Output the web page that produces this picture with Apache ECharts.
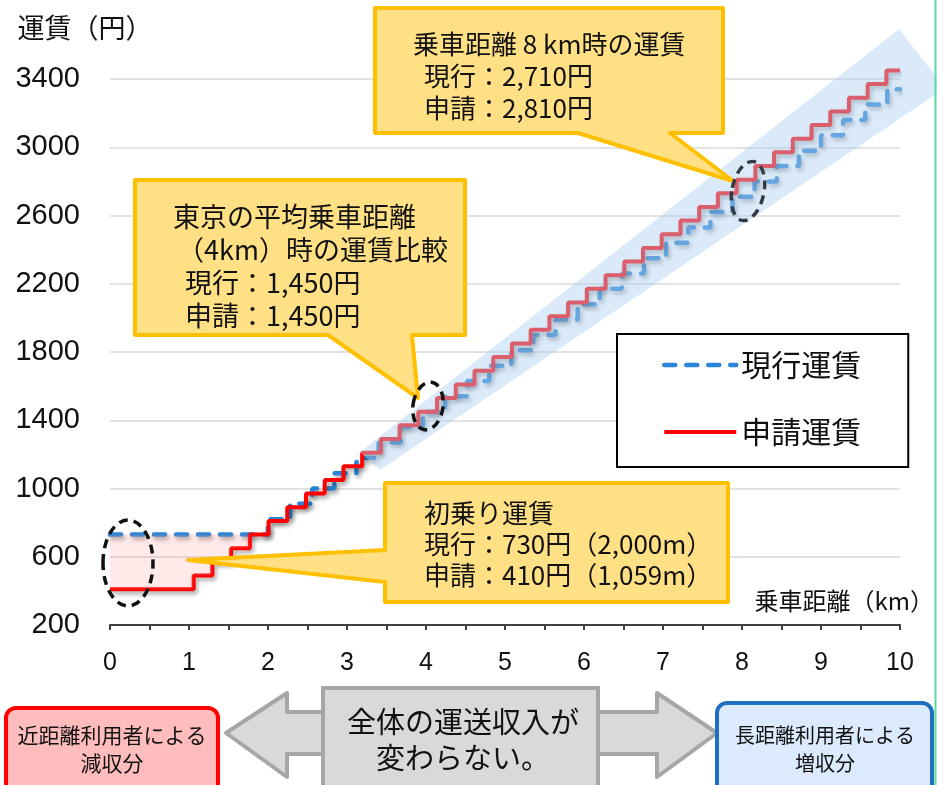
<!DOCTYPE html>
<html>
<head>
<meta charset="utf-8">
<title>運賃比較</title>
<script src="https://cdn.jsdelivr.net/npm/echarts@6/dist/echarts.min.js"></script>
<style>
  html, body { margin: 0; padding: 0; background: #fff; }
  #chart { width: 937px; height: 785px; }
</style>
</head>
<body>
<div id="chart"></div>
<script>
// 現行運賃：距離(km)ごとの運賃(円)
var currentKm = [0, 2.00, 2.28, 2.56, 2.84, 3.12, 3.40, 3.68, 3.96, 4.24, 4.52, 4.80, 5.08, 5.36, 5.64, 5.92,
  6.20, 6.48, 6.76, 7.04, 7.32, 7.60, 7.88, 8.16, 8.44, 8.72, 9.00, 9.28, 9.56, 9.84, 10]
var currentFare = [730, 820, 910, 1000, 1090, 1180, 1270, 1360, 1450, 1540, 1630, 1720, 1810, 1900, 1990, 2080,
  2170, 2260, 2350, 2440, 2530, 2620, 2710, 2800, 2890, 2980, 3070, 3160, 3250, 3340, 3340]

// 申請運賃
var proposedKm = [0, 1.059, 1.296, 1.533, 1.770, 2.007, 2.244, 2.481, 2.718, 2.955, 3.192, 3.429, 3.666, 3.903,
  4.140, 4.377, 4.614, 4.851, 5.088, 5.325, 5.562, 5.799, 6.036, 6.273, 6.510, 6.747, 6.984, 7.221, 7.458,
  7.695, 7.932, 8.169, 8.406, 8.643, 8.880, 9.117, 9.354, 9.591, 9.828, 10]
var proposedFare = [410, 490, 570, 650, 730, 810, 890, 970, 1050, 1130, 1210, 1290, 1370, 1450,
  1530, 1610, 1690, 1770, 1850, 1930, 2010, 2090, 2170, 2250, 2330, 2410, 2490, 2570, 2650,
  2730, 2810, 2890, 2970, 3050, 3130, 3210, 3290, 3370, 3450, 3450]

var seriesNames = ['現行運賃', '申請運賃']

// 軸
var yMin = 200
var yMax = 3400
var yStep = 400
var xMax = 10

var cjk = '"Noto Sans CJK JP", sans-serif'
var latin = '"Liberation Sans", Arial, sans-serif'

var currentData = currentKm.map(function (k, i) { return [k, currentFare[i]] })
var proposedData = proposedKm.map(function (k, i) { return [k, proposedFare[i]] })
// 初乗り部分（減収分）
var gapData = proposedData.filter(function (p) { return p[1] <= currentFare[0] })

var shadow = {
  shadowColor: 'rgba(0,0,0,0.35)',
  shadowBlur: 4,
  shadowOffsetX: 2,
  shadowOffsetY: 3
}

// 吹き出し
function callout(points, lines, x, y0, lh, size) {
  var items = [{
    type: 'polygon',
    z: 20,
    shape: { points: points },
    style: { fill: '#ffe085', stroke: '#ffc000', lineWidth: 4, lineJoin: 'round' }
  }]
  lines.forEach(function (t, i) {
    items.push({
      type: 'text',
      z: 21,
      x: x[i],
      y: y0 + i * lh,
      style: { text: t, font: size + 'px ' + cjk, fill: '#111', verticalAlign: 'middle' }
    })
  })
  return items
}

function ellipse(cx, cy, rx, ry, rot, color) {
  return {
    type: 'ellipse',
    z: 22,
    x: cx,
    y: cy,
    rotation: rot,
    shape: { cx: 0, cy: 0, rx: rx, ry: ry },
    style: { fill: 'transparent', stroke: color, lineWidth: 3.5, lineDash: [9, 6] }
  }
}

function label(x, y, t, size) {
  return {
    type: 'text',
    z: 31,
    x: x,
    y: y,
    style: { text: t, font: size + 'px ' + cjk, fill: '#111', align: 'center', verticalAlign: 'middle' }
  }
}

var graphics = [
  // 青い帯
  {
    type: 'polygon',
    z: 15,
    silent: true,
    shape: { points: [[360, 452], [899, 29], [945, 88], [380, 470]] },
    style: { fill: 'rgba(175,208,240,0.45)' }
  },
  ellipse(128, 563, 25, 43, 0, '#111'),
  ellipse(428, 406, 15, 24, -0.15, '#111'),
  ellipse(748, 191, 16, 30, -0.2, '#333c45'),
  // 下部の図
  {
    type: 'polygon',
    z: 30,
    shape: { points: [[226, 733], [287, 693], [287, 712], [657, 712], [657, 693], [717, 733],
      [657, 777], [657, 754], [287, 754], [287, 777]] },
    style: { fill: '#d9d9d9', stroke: '#a6a6a6', lineWidth: 4, lineJoin: 'round' }
  },
  {
    type: 'rect',
    z: 30,
    shape: { x: 323, y: 688, width: 275, height: 110 },
    style: { fill: '#d9d9d9', stroke: '#a6a6a6', lineWidth: 4 }
  },
  {
    type: 'rect',
    z: 30,
    shape: { x: 6, y: 708, width: 212, height: 95, r: 10 },
    style: { fill: '#ffbcbc', stroke: '#ff0000', lineWidth: 4 }
  },
  {
    type: 'rect',
    z: 30,
    shape: { x: 717, y: 703, width: 215, height: 100, r: 10 },
    style: { fill: '#dbeafc', stroke: '#1f6fc0', lineWidth: 4 }
  },
  label(112, 735, '近距離利用者による', 21),
  label(112, 763, '減収分', 21),
  label(463, 722, '全体の運送収入が', 29),
  label(463, 758, '変わらない。', 29),
  label(825, 735, '長距離利用者による', 20),
  label(825, 763, '増収分', 20),
  // 右端の線
  {
    type: 'line',
    z: 40,
    shape: { x1: 935.5, y1: 0, x2: 935.5, y2: 785 },
    style: { stroke: '#5fd6a3', lineWidth: 2 }
  }
]

graphics = graphics.concat(
  callout([[375, 8], [723, 8], [723, 133], [670, 133], [733, 181], [578, 133], [375, 133]],
    ['乗車距離 8 km時の運賃', '現行：2,710円', '申請：2,810円'], [413, 424, 424], 44, 32, 26),
  callout([[135, 180], [465, 180], [465, 335], [412, 335], [418, 398], [328, 335], [135, 335]],
    ['東京の平均乗車距離', '（4km）時の運賃比較', '現行：1,450円', '申請：1,450円'], [173, 177, 185, 185], 217, 33, 27),
  callout([[385, 483], [728, 483], [728, 602], [385, 602], [385, 582], [188, 560], [385, 550]],
    ['初乗り運賃', '現行：730円（2,000m）', '申請：410円（1,059m）'], [424, 424, 424], 513, 31, 26)
)

var chart = echarts.init(document.getElementById('chart'))
var option = {
  animation: false,
  backgroundColor: '#fff',
  grid: { left: 110, right: 32, top: 79, bottom: 160 },
  legend: {
    data: seriesNames,
    orient: 'vertical',
    left: 617,
    top: 334,
    padding: [16, 47, 20, 45],
    itemWidth: 72,
    itemHeight: 30,
    itemGap: 37,
    backgroundColor: '#fff',
    borderColor: '#000',
    borderWidth: 2,
    itemStyle: { opacity: 0 },
    lineStyle: { width: 'inherit' },
    textStyle: { fontSize: 30, fontFamily: cjk, color: '#111', padding: [0, 0, 0, 0] }
  },
  xAxis: {
    type: 'value',
    min: 0,
    max: xMax,
    interval: 0.5,
    name: '乗車距離（km）',
    nameLocation: 'end',
    nameGap: 34,
    nameTextStyle: { fontSize: 24, fontFamily: cjk, color: '#111', align: 'right', verticalAlign: 'bottom', padding: [0, 0, 12, 0] },
    axisLine: { lineStyle: { color: '#404040', width: 2 } },
    axisTick: { show: true, length: 5, lineStyle: { color: '#404040', width: 2 } },
    axisLabel: {
      margin: 26,
      fontSize: 25,
      fontFamily: latin,
      color: '#111',
      formatter: function (v) { return v % 1 === 0 ? String(v) : '' }
    },
    splitLine: { show: false }
  },
  yAxis: {
    type: 'value',
    min: yMin,
    max: yMax,
    interval: yStep,
    name: '運賃（円）',
    nameLocation: 'end',
    nameGap: 38,
    nameTextStyle: { fontSize: 27, fontFamily: cjk, color: '#111', align: 'center', padding: [0, 50, 0, 0] },
    axisLine: { show: false },
    axisTick: { show: false },
    axisLabel: {
      margin: 30,
      fontSize: 29,
      fontFamily: latin,
      color: '#111',
      formatter: function (v) { return String(v) }
    },
    splitLine: { lineStyle: { color: '#d9d9d9', width: 1.5 } }
  },
  series: [
    {
      name: seriesNames[0],
      type: 'line',
      step: 'end',
      symbol: 'none',
      clip: false,
      z: 3,
      data: currentData,
      lineStyle: Object.assign({ color: '#2a85d6', width: 4.5, type: [11, 11], cap: 'round' }, shadow),
      itemStyle: { color: '#2a85d6' }
    },
    {
      name: seriesNames[1],
      type: 'line',
      step: 'end',
      symbol: 'none',
      clip: false,
      z: 4,
      data: proposedData,
      lineStyle: Object.assign({ color: '#ff0000', width: 4 }, shadow),
      itemStyle: { color: '#ff0000' }
    },
    {
      name: '減収分',
      type: 'line',
      step: 'end',
      symbol: 'none',
      z: 5,
      data: gapData,
      lineStyle: { opacity: 0 },
      areaStyle: { color: 'rgba(255,130,130,0.25)', origin: currentFare[0] },
      silent: true
    }
  ],
  graphic: graphics
}
chart.setOption(option)
</script>
</body>
</html>
